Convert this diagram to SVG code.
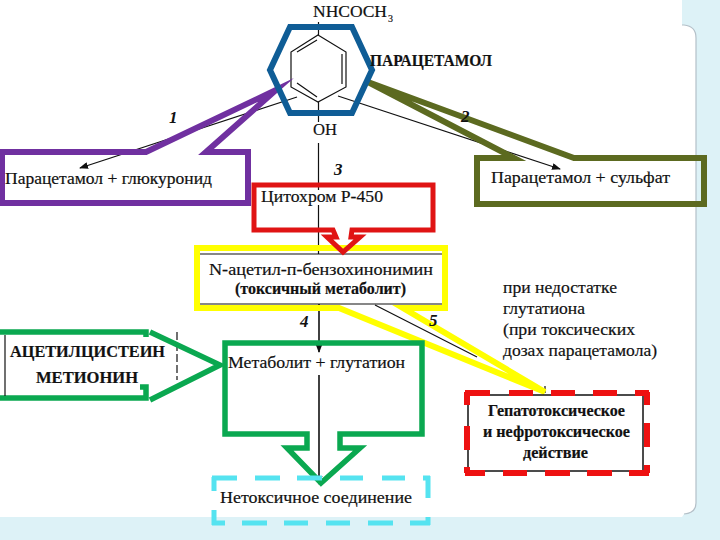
<svg xmlns="http://www.w3.org/2000/svg" width="720" height="540" viewBox="0 0 720 540">
<style>
.t{font-family:"Liberation Serif","DejaVu Serif",serif;fill:#111;font-size:17px;stroke:#111;stroke-width:.2}
.b{font-weight:bold;font-size:16.5px}
.s{font-size:16px}
.n{font-weight:bold;font-style:italic;font-size:17px;stroke:none}
.o{fill:none;stroke-linejoin:miter;stroke-miterlimit:10}
.l{fill:none;stroke:#111;stroke-width:1.2}
</style>
<defs>
<marker id="a" markerWidth="9" markerHeight="7" refX="8" refY="3.5" orient="auto" markerUnits="userSpaceOnUse"><path d="M0 0L9 3.5L0 7Z" fill="#111"/></marker>
</defs>
<rect width="720" height="540" fill="#ddf2f7"/>
<path d="M0 0H682V25H684Q696 26 696 38V503Q696 513 684 514L682 517H0Z" fill="#fff"/>
<path d="M682 25H684Q696 26 696 38V503Q696 513 684 514" fill="none" stroke="#b4c0c8" stroke-width="1.2"/>

<g id="connectors">
<path class="l" d="M318.5 22V35M318.5 102V122M318.5 143V190M318.5 205V254"/>
<path class="l" style="stroke-width:1.6" d="M319 304V352" marker-end="url(#a)"/>
<path class="l" style="stroke-width:1.6" d="M319 375V484" marker-end="url(#a)"/>
<path class="l" d="M297 97L80 168" marker-end="url(#a)"/>
<path class="l" d="M338 96L560 169" marker-end="url(#a)"/>
<path class="l" d="M375 305L477 357M545 386V393"/>
<path class="l" style="stroke-dasharray:8 3" d="M177 332V380"/>
</g>

<g id="benzene">
<path class="l" d="M318 35L346 52V87L318 102L291 87V52ZM342 54V84M297 52L317 40M297 83L317 97"/>
</g>

<g id="node-glucuronide">
<path class="o" stroke="#7030a0" stroke-width="6" d="M2 152H146L276 90L206 152H248V203H2Z"/>
<text class="t" x="5" y="184" textLength="207" lengthAdjust="spacingAndGlyphs">Парацетамол + глюкуронид</text>
</g>
<g id="node-sulfate">
<path class="o" stroke="#5c6a20" stroke-width="6" d="M477 158H514L368 82L574 158H704V204H477Z"/>
<text class="t" x="491" y="183" textLength="179" lengthAdjust="spacingAndGlyphs">Парацетамол + сульфат</text>
</g>
<g id="node-hexagon">
<path class="o" stroke="#0f5d96" stroke-width="6" d="M290 27H352L372 70L352 113H290L270 70Z"/>
</g>
<g id="node-metabolite">
<path d="M199 254H443M199 304H443" class="l"/>
<path class="o" stroke="#ffff00" stroke-width="6" d="M197 248H445V308H403L545 392L339 308H197Z"/>
<text class="t" x="209" y="275" textLength="224" lengthAdjust="spacingAndGlyphs">N-ацетил-п-бензохинонимин</text>
<text class="t b" x="235" y="294" textLength="171" lengthAdjust="spacingAndGlyphs">(токсичный метаболит)</text>
</g>
<g id="node-cytochrome">
<path class="o" stroke="#e01414" stroke-width="5" d="M254 185H433V230H352L351 237H360L343 252L327 237H336L333 230H254Z"/>
<text class="t" x="261" y="202" textLength="122" lengthAdjust="spacingAndGlyphs">Цитохром Р-450</text>
</g>
<g id="node-glutathione">
<path class="o" stroke="#0aa850" stroke-width="5.5" d="M225 343H422V434H340V448H360L321 483L287 448H307V434H225Z"/>
<text class="t" x="228" y="368" textLength="177" lengthAdjust="spacingAndGlyphs">Метаболит + глутатион</text>
</g>
<g id="node-acetylcysteine">
<path class="o" stroke="#0aa850" stroke-width="5.5" d="M0 332H146V337M150 332L220 365L150 400M140 387H146V398H0"/>
<path class="l" d="M5 335V396"/>
<text class="t b" x="10" y="357" textLength="155" lengthAdjust="spacingAndGlyphs">АЦЕТИЛЦИСТЕИН</text>
<text class="t b" x="36" y="383" textLength="102" lengthAdjust="spacingAndGlyphs">МЕТИОНИН</text>
</g>
<g id="node-hepatotoxic">
<rect x="468" y="395" width="175" height="76" fill="none" stroke="#111" stroke-width="1.5"/>
<path fill="none" stroke="#ee1111" stroke-width="6" d="M465 393H490M509 393H533M551 393H575M593 393H617M635 393H649M465 473H485M503 473H527M545 473H570M587 473H612M629 473H649M467 392V405M467 426V450M467 467V473M647 392V405M647 423V447M647 465V473"/>
<text class="t b" x="488" y="416" textLength="137" lengthAdjust="spacingAndGlyphs">Гепатотоксическое</text>
<text class="t b" x="483" y="437" textLength="147" lengthAdjust="spacingAndGlyphs">и нефротоксическое</text>
<text class="t b" x="523" y="458" textLength="65" lengthAdjust="spacingAndGlyphs">действие</text>
</g>
<g id="node-nontoxic">
<path fill="none" stroke="#55e3f0" stroke-width="5" d="M212 478H237M255 478H280M297 478H322M340 478H363M382 478H405M423 478H430M212 523H225M242 523H267M284 523H308M326 523H350M368 523H393M410 523H430M214 477V491M214 510V525M428 476V498M428 517V525"/>
<text class="t" x="220" y="503" textLength="192" lengthAdjust="spacingAndGlyphs">Нетоксичное соединение</text>
</g>

<g id="labels">
<text class="t" x="313" y="17" textLength="74" lengthAdjust="spacingAndGlyphs">NHCOCH</text>
<text class="t" x="388" y="22" style="font-size:10px">3</text>
<text class="t b" x="370" y="66" textLength="122" lengthAdjust="spacingAndGlyphs">ПАРАЦЕТАМОЛ</text>
<text class="t" x="313" y="135" textLength="24" lengthAdjust="spacingAndGlyphs">OH</text>
<text class="t n" x="169" y="123">1</text>
<text class="t n" x="461" y="122">2</text>
<text class="t n" x="334" y="175">3</text>
<text class="t n" x="300" y="327">4</text>
<text class="t n" x="429" y="326">5</text>
<text class="t" x="503" y="293" textLength="114" lengthAdjust="spacingAndGlyphs">при недостатке</text>
<text class="t" x="503" y="314" textLength="82" lengthAdjust="spacingAndGlyphs">глутатиона</text>
<text class="t" x="503" y="335" textLength="132" lengthAdjust="spacingAndGlyphs">(при токсических</text>
<text class="t" x="503" y="356" textLength="154" lengthAdjust="spacingAndGlyphs">дозах парацетамола)</text>
</g>
</svg>
